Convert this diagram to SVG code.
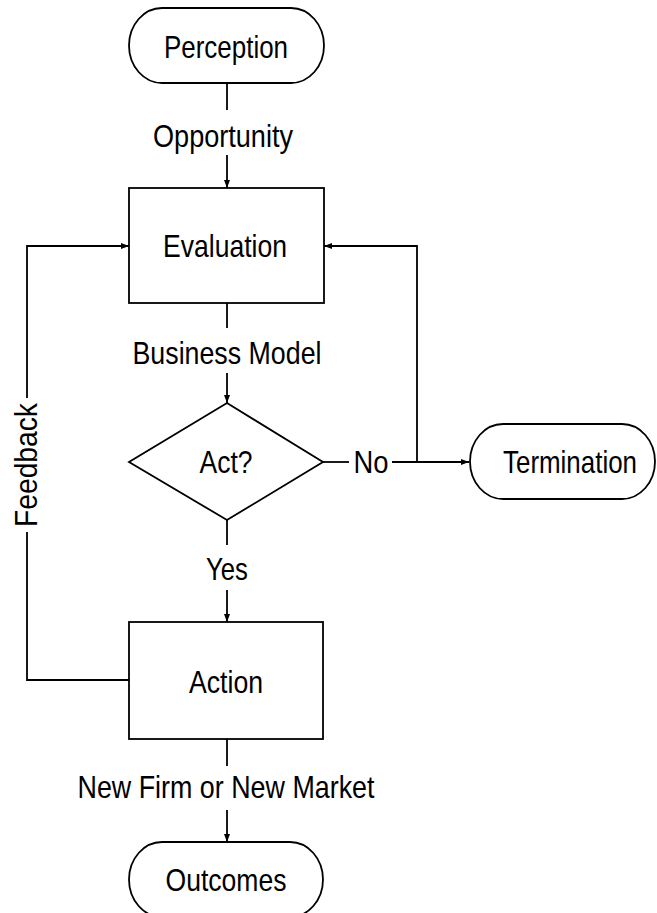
<svg xmlns="http://www.w3.org/2000/svg" width="657" height="913" viewBox="0 0 657 913">
  <style>
    .shape { fill: #ffffff; stroke: #000000; stroke-width: 1.8; }
    .edge { fill: none; stroke: #000000; stroke-width: 1.8; }
    .lbl { font-family: "Liberation Sans", Arial, sans-serif; font-size: 30.5px; fill: #000000; text-anchor: middle; }
  </style>
  <defs>
    <marker id="arrow" viewBox="0 0 8 6" refX="8" refY="3" markerWidth="8" markerHeight="6" markerUnits="userSpaceOnUse" orient="auto">
      <path d="M0,0 L8,3 L0,6 z" fill="#000000"/>
    </marker>
  </defs>
  <rect width="657" height="913" fill="#ffffff"/>

  <!-- connectors -->
  <g id="connectors">
    <line class="edge" x1="227" y1="83" x2="227" y2="110"/>
    <line class="edge" x1="227" y1="155" x2="227" y2="188" marker-end="url(#arrow)"/>
    <line class="edge" x1="227" y1="303" x2="227" y2="328"/>
    <line class="edge" x1="227" y1="373" x2="227" y2="403" marker-end="url(#arrow)"/>
    <line class="edge" x1="227" y1="520" x2="227" y2="545"/>
    <line class="edge" x1="227" y1="590" x2="227" y2="622" marker-end="url(#arrow)"/>
    <line class="edge" x1="227" y1="739" x2="227" y2="766"/>
    <line class="edge" x1="227" y1="810" x2="227" y2="842" marker-end="url(#arrow)"/>
    <!-- No branch -->
    <line class="edge" x1="323" y1="462" x2="349" y2="462"/>
    <line class="edge" x1="392" y1="462" x2="469" y2="462" marker-end="url(#arrow)"/>
    <polyline class="edge" points="417,462 417,246 324,246" marker-end="url(#arrow)"/>
    <!-- feedback loop -->
    <polyline class="edge" points="129,680 27,680 27,532"/>
    <polyline class="edge" points="27,398 27,246 129,246" marker-end="url(#arrow)"/>
    <text class="lbl" transform="translate(37,465) rotate(-90)" textLength="124" lengthAdjust="spacingAndGlyphs">Feedback</text>
    <text class="lbl" x="223" y="147" textLength="140" lengthAdjust="spacingAndGlyphs">Opportunity</text>
    <text class="lbl" x="227" y="364" textLength="189" lengthAdjust="spacingAndGlyphs">Business Model</text>
    <text class="lbl" x="371" y="473" textLength="35" lengthAdjust="spacingAndGlyphs">No</text>
    <text class="lbl" x="227" y="580" textLength="42" lengthAdjust="spacingAndGlyphs">Yes</text>
    <text class="lbl" x="226" y="798" textLength="297" lengthAdjust="spacingAndGlyphs">New Firm or New Market</text>
  </g>

  <g id="perception">
    <rect class="shape" x="129" y="8" width="195" height="75" rx="33" ry="37.5"/>
    <text class="lbl" x="226" y="58" textLength="124" lengthAdjust="spacingAndGlyphs">Perception</text>
  </g>

  <g id="evaluation">
    <rect class="shape" x="129" y="188" width="195" height="115"/>
    <text class="lbl" x="225" y="257" textLength="124" lengthAdjust="spacingAndGlyphs">Evaluation</text>
  </g>

  <g id="act">
    <polygon class="shape" points="227,403 323,462 227,520 129,462"/>
    <text class="lbl" x="226" y="473" textLength="53" lengthAdjust="spacingAndGlyphs">Act?</text>
  </g>

  <g id="termination">
    <rect class="shape" x="470" y="424" width="185" height="75" rx="33" ry="37.5"/>
    <text class="lbl" x="570" y="473" textLength="134" lengthAdjust="spacingAndGlyphs">Termination</text>
  </g>

  <g id="action">
    <rect class="shape" x="129" y="622" width="194" height="117"/>
    <text class="lbl" x="226" y="693" textLength="74" lengthAdjust="spacingAndGlyphs">Action</text>
  </g>

  <g id="outcomes">
    <rect class="shape" x="129" y="842" width="194" height="75" rx="33" ry="37.5"/>
    <text class="lbl" x="226" y="891" textLength="121" lengthAdjust="spacingAndGlyphs">Outcomes</text>
  </g>
</svg>
